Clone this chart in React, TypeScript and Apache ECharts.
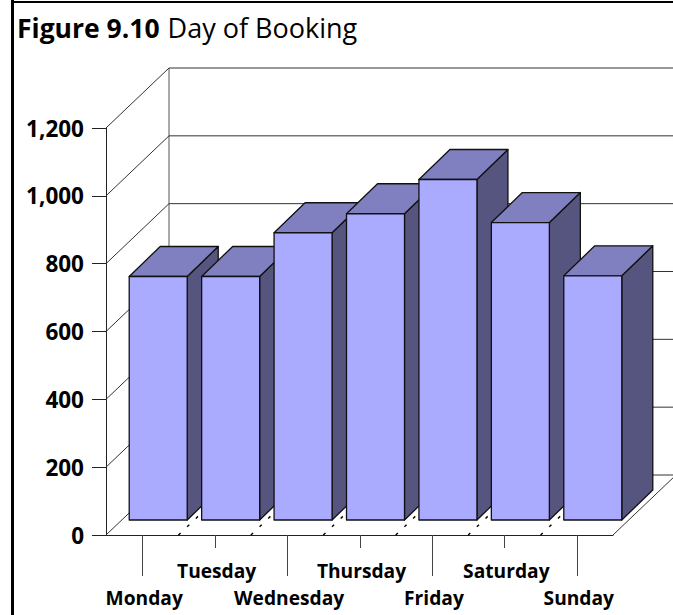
import React, { useEffect, useRef } from "react";
import * as echarts from "echarts";

const days = ["Monday", "Tuesday", "Wednesday", "Thursday", "Friday", "Saturday", "Sunday"];
const bookings = [718, 718, 847, 903, 1004, 877, 720];
const tickValues = [0, 200, 400, 600, 800, 1000, 1200];
const titleBold = "Figure 9.10";
const titleRest = "Day of Booking";

const DEPTH_X = 63;
const DEPTH_Y = 60;
const BAR_W = 58;
const BAR_DX = 16;
const BAR_DY = 15;
const BAR_SIDE_X = 31;
const BAR_SIDE_Y = 30;
const FONT = "'Open Sans', 'Noto Sans', sans-serif";

function renderWalls(params: any, api: any) {
  const cs = params.coordSys;
  const left = cs.x;
  const right = cs.x + cs.width;
  const y = api.coord([0, api.value(0)])[1];
  const lineStyle = { stroke: "#333", lineWidth: 1, fill: "none" };
  const children: any[] = [
    { type: "line", shape: { x1: left, y1: y, x2: left + DEPTH_X, y2: y - DEPTH_Y }, style: lineStyle },
    { type: "line", shape: { x1: left + DEPTH_X, y1: y - DEPTH_Y, x2: right + DEPTH_X, y2: y - DEPTH_Y }, style: lineStyle },
  ];
  if (params.dataIndex === 0) {
    const top = api.coord([0, tickValues[tickValues.length - 1]])[1];
    children.push(
      { type: "line", shape: { x1: left + DEPTH_X, y1: top - DEPTH_Y, x2: left + DEPTH_X, y2: y - DEPTH_Y }, style: { ...lineStyle, stroke: "#555" } },
      { type: "line", shape: { x1: right, y1: y, x2: right + DEPTH_X, y2: y - DEPTH_Y }, style: lineStyle },
    );
    const band = cs.width / days.length;
    for (let k = 1; k < days.length; k++) {
      const x = left + band * k;
      children.push({
        type: "line",
        shape: { x1: x, y1: y, x2: x + DEPTH_X, y2: y - DEPTH_Y },
        style: { stroke: "#000", lineWidth: 1.4, lineDash: [3, 9], fill: "none" },
      });
    }
    days.forEach((_, i) => {
      const cx = Math.round(api.coord([i, 0])[0]) + 0.5;
      children.push({
        type: "line",
        shape: { x1: cx, y1: y, x2: cx, y2: y + (i % 2 === 0 ? 41 : 13) },
        style: { stroke: "#444", lineWidth: 1 },
      });
    });
  }
  return { type: "group", children };
}

function renderBar(params: any, api: any) {
  const i = api.value(0);
  const [cx, y0] = api.coord([i, 0]);
  const [, yv] = api.coord([i, api.value(1)]);
  const x1 = cx + BAR_DX - BAR_W / 2;
  const x2 = x1 + BAR_W;
  const yb = y0 - BAR_DY;
  const yt = yv - BAR_DY;
  const stroke = { stroke: "#111", lineWidth: 1.3, lineJoin: "round" };
  return {
    type: "group",
    children: [
      { type: "polygon", shape: { points: [[x2, yt], [x2 + BAR_SIDE_X, yt - BAR_SIDE_Y], [x2 + BAR_SIDE_X, yb - BAR_SIDE_Y], [x2, yb]] }, style: { fill: "#555580", ...stroke } },
      { type: "polygon", shape: { points: [[x1, yt], [x1 + BAR_SIDE_X, yt - BAR_SIDE_Y], [x2 + BAR_SIDE_X, yt - BAR_SIDE_Y], [x2, yt]] }, style: { fill: "#8080C0", ...stroke } },
      { type: "rect", shape: { x: x1, y: yt, width: BAR_W, height: yb - yt }, style: { fill: "#AAAAFF", ...stroke } },
    ],
  };
}

export default function App() {
  const ref = useRef<HTMLDivElement>(null);
  useEffect(() => {
    document.body.style.margin = "0";
    document.body.style.overflow = "hidden";
    const chart = echarts.init(ref.current!, undefined, { renderer: "svg" });
    chart.setOption({
      animation: false,
      backgroundColor: "#fff",
      title: {
        left: 17,
        top: 14,
        padding: 0,
        text: `{b|${titleBold}} {r|${titleRest}}`,
        textStyle: {
          rich: {
            b: { fontFamily: FONT, fontSize: 26.5, fontWeight: "bold", color: "#000" },
            r: { fontFamily: FONT, fontSize: 27, fontWeight: "normal", color: "#000", padding: [0, 0, 0, 3] },
          },
        },
      },
      grid: { left: 106, top: 128, width: 507, height: 407, containLabel: false },
      xAxis: {
        type: "category",
        data: days,
        axisLine: { show: true, lineStyle: { color: "#222", width: 1 } },
        axisTick: { show: false },
        axisLabel: {
          interval: 0,
          hideOverlap: false,
          margin: 22,
          color: "#000",
          fontFamily: FONT,
          fontWeight: "bold",
          fontSize: 19.2,
          lineHeight: 27,
          verticalAlign: "top",
          padding: [0, 0, 0, 4],
          formatter: (v: string, i: number) => (i % 2 === 0 ? `\n${v}` : v),
        },
      },
      yAxis: {
        type: "value",
        min: 0,
        max: 1200,
        interval: 200,
        splitLine: { show: false },
        axisLine: { show: true, lineStyle: { color: "#222", width: 1 } },
        axisTick: { show: true, length: 14, lineStyle: { color: "#222", width: 1 } },
        axisLabel: {
          margin: 22,
          color: "#000",
          fontFamily: FONT,
          fontWeight: "bold",
          fontSize: 22.5,
          padding: [4, 0, 0, 0],
          formatter: (v: number) => v.toLocaleString("en-US"),
        },
      },
      series: [
        { type: "custom", z: 1, clip: false, silent: true, data: tickValues.map((v) => [v]), encode: { y: 0 }, renderItem: renderWalls },
        { type: "custom", z: 3, clip: false, silent: true, data: bookings.map((v, i) => [i, v]), encode: { x: 0, y: 1 }, renderItem: renderBar },
      ],
      graphic: [
        { type: "rect", z: 10, shape: { x: 11, y: 0, width: 3, height: 615 }, style: { fill: "#000" } },
        { type: "rect", z: 10, shape: { x: 11, y: 1, width: 662, height: 2 }, style: { fill: "#000" } },
      ],
    });
    return () => chart.dispose();
  }, []);
  return <div ref={ref} style={{ width: 673, height: 615 }} />;
}
